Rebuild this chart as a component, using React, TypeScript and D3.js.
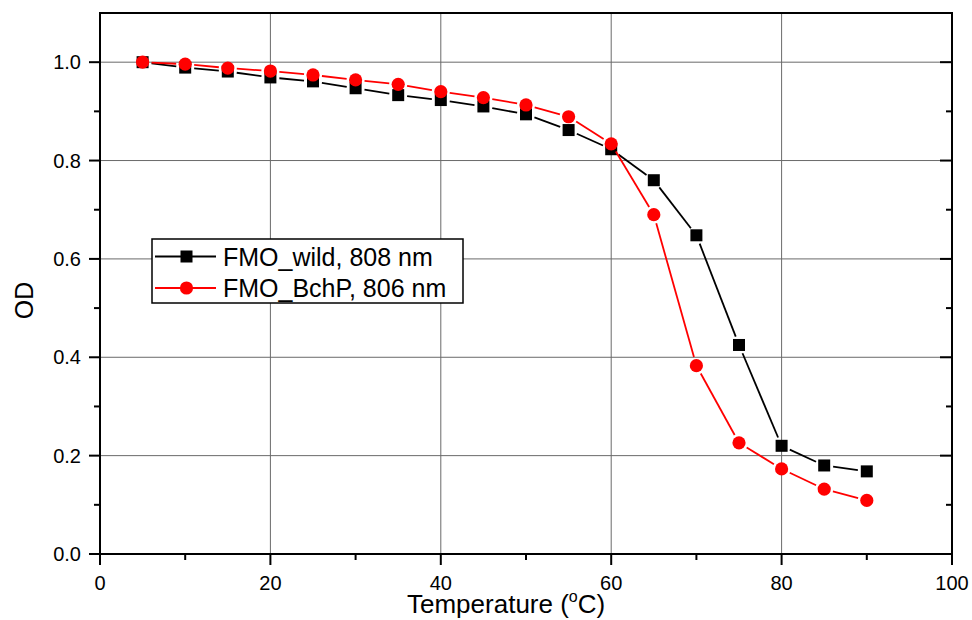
import React from "react";
import * as d3 from "d3";

const temperatures = [5, 10, 15, 20, 25, 30, 35, 40, 45, 50, 55, 60, 65, 70, 75, 80, 85, 90];
const wildOD = [1.0, 0.989, 0.981, 0.969, 0.961, 0.947, 0.933, 0.923, 0.91, 0.894, 0.862, 0.823, 0.76, 0.648, 0.425, 0.22, 0.18, 0.168];
const bchpOD = [1.0, 0.996, 0.988, 0.982, 0.974, 0.964, 0.955, 0.94, 0.928, 0.913, 0.889, 0.834, 0.69, 0.383, 0.226, 0.173, 0.132, 0.109];
const xMajorTicks = [0, 20, 40, 60, 80, 100];
const xMinorTicks = [10, 30, 50, 70, 90];
const yMajorTicks = [0, 0.2, 0.4, 0.6, 0.8, 1.0];
const yMinorTicks = [0.1, 0.3, 0.5, 0.7, 0.9];
const seriesNames = ["FMO_wild, 808 nm", "FMO_BchP, 806 nm"];

const W = 972;
const H = 620;
const left = 100;
const right = 952;
const top = 13;
const bottom = 554;
const FONT = "'Liberation Sans', Arial, sans-serif";

const x = d3.scaleLinear().domain([0, 100]).range([left, right]);
const y = d3.scaleLinear().domain([0, 1.1]).range([bottom, top]);

type Pt = [number, number];

// Connect consecutive points, leaving a small gap around each marker
function gappedSegments(xs: number[], ys: number[], gap: number): string[] {
  const pts: Pt[] = xs.map((t, i) => [x(t), y(ys[i])]);
  const segs: string[] = [];
  for (let i = 0; i < pts.length - 1; i++) {
    const [x0, y0] = pts[i];
    const [x1, y1] = pts[i + 1];
    const dx = x1 - x0;
    const dy = y1 - y0;
    const len = Math.hypot(dx, dy);
    if (len <= 2 * gap) continue;
    const ux = dx / len;
    const uy = dy / len;
    segs.push(
      `M${x0 + ux * gap},${y0 + uy * gap}L${x1 - ux * gap},${y1 - uy * gap}`
    );
  }
  return segs;
}

export default function App() {
  const wildSegs = gappedSegments(temperatures, wildOD, 9);
  const bchpSegs = gappedSegments(temperatures, bchpOD, 9);

  return (
    <svg
      width={W}
      height={H}
      style={{ position: "fixed", left: 0, top: 0, background: "#fff" }}
      fontFamily={FONT}
    >
      <rect x={0} y={0} width={W} height={H} fill="#fff" />

      {/* grid */}
      {xMajorTicks.slice(1, -1).map((t) => (
        <line key={"gx" + t} x1={x(t)} x2={x(t)} y1={top} y2={bottom} stroke="#6a6a6a" strokeWidth={1} />
      ))}
      {yMajorTicks.slice(1).map((t) => (
        <line key={"gy" + t} x1={left} x2={right} y1={y(t)} y2={y(t)} stroke="#6a6a6a" strokeWidth={1} />
      ))}

      {/* series: wild type */}
      <g>
        {wildSegs.map((d, i) => (
          <path key={"wl" + i} d={d} stroke="#000" strokeWidth={1.8} fill="none" />
        ))}
        {temperatures.map((t, i) => (
          <rect key={"wm" + i} x={x(t) - 6} y={y(wildOD[i]) - 6} width={12} height={12} fill="#000" />
        ))}
      </g>

      {/* series: BchP */}
      <g>
        {bchpSegs.map((d, i) => (
          <path key={"bl" + i} d={d} stroke="#ff0000" strokeWidth={1.8} fill="none" />
        ))}
        {temperatures.map((t, i) => (
          <circle key={"bm" + i} cx={x(t)} cy={y(bchpOD[i])} r={6.6} fill="#ff0000" />
        ))}
      </g>

      {/* frame */}
      <rect x={left} y={top} width={right - left} height={bottom - top} fill="none" stroke="#000" strokeWidth={2} />

      {/* bottom axis ticks */}
      {xMajorTicks.map((t) => (
        <line key={"xt" + t} x1={x(t)} x2={x(t)} y1={bottom} y2={bottom + 11} stroke="#000" strokeWidth={2} />
      ))}
      {xMinorTicks.map((t) => (
        <line key={"xm" + t} x1={x(t)} x2={x(t)} y1={bottom} y2={bottom + 6} stroke="#000" strokeWidth={2} />
      ))}
      {/* left axis ticks */}
      {yMajorTicks.map((t) => (
        <line key={"yt" + t} x1={left - 11} x2={left} y1={y(t)} y2={y(t)} stroke="#000" strokeWidth={2} />
      ))}
      {yMinorTicks.map((t) => (
        <line key={"ym" + t} x1={left - 6} x2={left} y1={y(t)} y2={y(t)} stroke="#000" strokeWidth={2} />
      ))}
      {/* right axis ticks (inward) */}
      {yMajorTicks.map((t) => (
        <line key={"rt" + t} x1={right - 12} x2={right} y1={y(t)} y2={y(t)} stroke="#000" strokeWidth={2} />
      ))}
      {yMinorTicks.map((t) => (
        <line key={"rm" + t} x1={right - 6} x2={right} y1={y(t)} y2={y(t)} stroke="#000" strokeWidth={2} />
      ))}

      {/* tick labels */}
      {xMajorTicks.map((t) => (
        <text key={"xl" + t} x={x(t)} y={590} textAnchor="middle" fontSize={20} fill="#000">
          {d3.format("d")(t)}
        </text>
      ))}
      {yMajorTicks.map((t) => (
        <text key={"yl" + t} x={81} y={y(t)} dy="0.36em" textAnchor="end" fontSize={20} fill="#000">
          {d3.format(".1f")(t)}
        </text>
      ))}

      {/* axis titles */}
      <text x={407} y={613} textAnchor="start" fontSize={26} fill="#000">
        Temperature (
        <tspan fontSize={16} dy={-11}>o</tspan>
        <tspan dy={11}>C)</tspan>
      </text>
      <text
        transform={`translate(33, ${(top + bottom) / 2 + 17}) rotate(-90)`}
        textAnchor="middle"
        fontSize={25}
        fill="#000"
      >
        OD
      </text>

      {/* legend */}
      <g>
        <rect x={152} y={239} width={311} height={64} fill="#fff" stroke="#000" strokeWidth={1.5} />
        <line x1={155} x2={216} y1={256.5} y2={256.5} stroke="#000" strokeWidth={1.8} />
        <rect x={186.5 - 6} y={256.5 - 6} width={12} height={12} fill="#000" />
        <text x={223} y={265.5} fontSize={25} fill="#000">{seriesNames[0]}</text>
        <line x1={155} x2={216} y1={288} y2={288} stroke="#ff0000" strokeWidth={1.8} />
        <circle cx={186.5} cy={288} r={6.6} fill="#ff0000" />
        <text x={223} y={297} fontSize={25} fill="#000">{seriesNames[1]}</text>
      </g>
    </svg>
  );
}
